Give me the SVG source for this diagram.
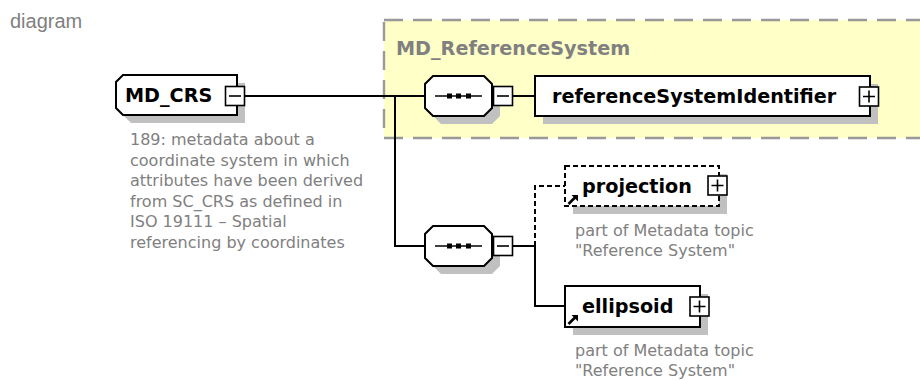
<svg xmlns="http://www.w3.org/2000/svg" width="920" height="380" viewBox="0 0 920 380">
<style>
.shadow{fill:#c0c0c0;stroke:none}
.box{fill:#ffffff;stroke:#000000;stroke-width:2}
.dbox{fill:#ffffff;stroke:#000000;stroke-width:2;stroke-dasharray:5 3}
.exp{fill:#ffffff;stroke:#000000;stroke-width:1.6}
.sym{stroke:#000000;stroke-width:1.6;fill:none}
.lbl{font-family:"DejaVu Sans",Verdana,sans-serif;font-weight:bold;font-size:19.2px;fill:#000000}
.note{font-family:"DejaVu Sans",Verdana,sans-serif;font-size:16px;fill:#808080}
.conn{stroke:#000000;stroke-width:2;fill:none}
.dconn{stroke:#000000;stroke-width:2;fill:none;stroke-dasharray:5 3}
.dot{fill:#000000}
</style>
<defs>
<g id="refarrow">
<path d="M0 9 L6.5 2.5" stroke="#000000" stroke-width="2.6" fill="none"/>
<path d="M3 0 L9.5 0 L9.5 6.5 Z" fill="#000000"/>
</g>
<g id="seqsym">
<path d="M10 0 H57" class="sym"/>
<rect x="22" y="-2.5" width="5" height="5" class="dot"/>
<rect x="31" y="-2.5" width="5" height="5" class="dot"/>
<rect x="41" y="-2.5" width="5" height="5" class="dot"/>
</g>
</defs>

<text x="10" y="28" font-family="Liberation Sans,Arial,sans-serif" font-size="20" fill="#808080">diagram</text>

<g id="MD_ReferenceSystem">
<rect x="384" y="20" width="545" height="118" fill="#ffffc8" stroke="#999999" stroke-width="2.4" stroke-dasharray="19 10"/>
<text x="396" y="55" class="lbl" style="fill:#808080">MD_ReferenceSystem</text>
</g>

<g id="connectors">
<path d="M245 96 H425" class="conn"/>
<path d="M395 96 V246 H425" class="conn"/>
<path d="M513 96 H535" class="conn"/>
<path d="M513 246 H535 V306 H565" class="conn"/>
<path d="M535 246 V186 H565" class="dconn"/>
</g>

<g id="MD_CRS">
<path d="M131 83 H245 V123 H131 L124 116 V90 Z" class="shadow"/>
<path d="M123 75 H237 V115 H123 L116 108 V82 Z" class="box"/>
<text x="125" y="102" class="lbl">MD_CRS</text>
<rect x="225.5" y="86.5" width="19" height="19" class="exp"/>
<path d="M229 96 H241" class="sym"/>
<text class="note">
<tspan x="130" y="145">189: metadata about a</tspan>
<tspan x="130" y="165.6">coordinate system in which</tspan>
<tspan x="130" y="186.2">attributes have been derived</tspan>
<tspan x="130" y="206.8">from SC_CRS as defined in</tspan>
<tspan x="130" y="227.4">ISO 19111 – Spatial</tspan>
<tspan x="130" y="248">referencing by coordinates</tspan>
</text>
</g>

<g id="sequence1">
<path d="M441 84 H492 L500 92 V116 L492 124 H441 L433 116 V92 Z" class="shadow"/>
<path d="M433 76 H484 L492 84 V108 L484 116 H433 L425 108 V84 Z" class="box"/>
<use href="#seqsym" x="425" y="96"/>
<rect x="493.5" y="86.5" width="19" height="19" class="exp"/>
<path d="M497 96 H509" class="sym"/>
</g>

<g id="referenceSystemIdentifier">
<rect x="543" y="84" width="335" height="40" class="shadow"/>
<rect x="535" y="76" width="335" height="40" class="box"/>
<text x="552" y="103" class="lbl">referenceSystemIdentifier</text>
<rect x="859.5" y="87" width="19" height="19" class="exp"/>
<path d="M863 96.5 H875 M869 90.5 V102.5" class="sym"/>
</g>

<g id="sequence2">
<path d="M441 234 H492 L500 242 V266 L492 274 H441 L433 266 V242 Z" class="shadow"/>
<path d="M433 226 H484 L492 234 V258 L484 266 H433 L425 258 V234 Z" class="box"/>
<use href="#seqsym" x="425" y="246"/>
<rect x="493.5" y="236.5" width="19" height="19" class="exp"/>
<path d="M497 246 H509" class="sym"/>
</g>

<g id="projection">
<rect x="573" y="174" width="154" height="40" class="shadow"/>
<rect x="565" y="166" width="154" height="40" class="dbox"/>
<use href="#refarrow" x="568.5" y="195"/>
<text x="582" y="193" class="lbl">projection</text>
<rect x="708" y="176" width="19" height="19" class="exp"/>
<path d="M711.5 185.5 H723.5 M717.5 179.5 V191.5" class="sym"/>
<text class="note">
<tspan x="575" y="235.5">part of Metadata topic</tspan>
<tspan x="575" y="256">"Reference System"</tspan>
</text>
</g>

<g id="ellipsoid">
<rect x="573" y="294" width="135" height="41" class="shadow"/>
<rect x="565" y="286" width="135" height="41" class="box"/>
<use href="#refarrow" x="568.5" y="315"/>
<text x="582" y="313" class="lbl">ellipsoid</text>
<rect x="690" y="297" width="19" height="19" class="exp"/>
<path d="M693.5 306.5 H705.5 M699.5 300.5 V312.5" class="sym"/>
<text class="note">
<tspan x="575" y="355.5">part of Metadata topic</tspan>
<tspan x="575" y="376">"Reference System"</tspan>
</text>
</g>
</svg>
